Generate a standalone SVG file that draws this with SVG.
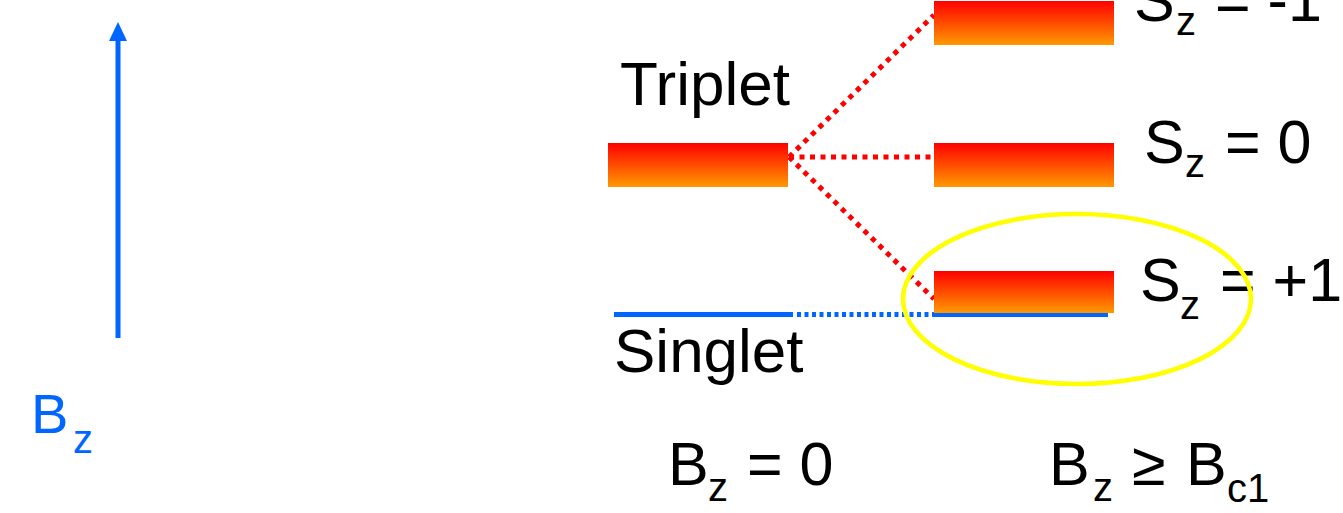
<svg xmlns="http://www.w3.org/2000/svg" width="1343" height="513" viewBox="0 0 1343 513">
<style>
text{font-family:"Liberation Sans",Arial,sans-serif;fill:#000}
.lbl{font-size:62px}
.eq{font-size:61px}
.sub{font-size:40px}
.blue{fill:#0066ff}
.bar{fill:url(#grad)}
.red{stroke:#ff0000;stroke-width:5;stroke-dasharray:5 5.5;fill:none}
.bl{stroke:#0066ff;stroke-width:5;fill:none}
</style>
<defs>
<linearGradient id="grad" x1="0" y1="0" x2="0" y2="1">
<stop offset="0" stop-color="#ff0000"/>
<stop offset="1" stop-color="#ff9900"/>
</linearGradient>
</defs>
<rect width="1343" height="513" fill="#fff"/>
<g id="field-arrow">
<line x1="118" y1="338" x2="118" y2="38" stroke="#0066ff" stroke-width="5"/>
<polygon points="118,22 109,41 127,41" fill="#0066ff"/>
<text class="blue" x="31" y="433" font-size="56">B<tspan class="sub blue" x="73" y="453">z</tspan></text>
</g>
<g id="connectors">
<line class="red" x1="789" y1="157" x2="934" y2="15"/>
<line class="red" x1="789" y1="157" x2="934" y2="157"/>
<line class="red" x1="789" y1="157" x2="934" y2="299"/>
<line class="bl" x1="797" y1="314.5" x2="934" y2="314.5" stroke-dasharray="4 3.5"/>
</g>
<g id="singlet">
<line class="bl" x1="614" y1="314.5" x2="793" y2="314.5"/>
<line class="bl" x1="934" y1="314.5" x2="1108" y2="314.5"/>
<text class="lbl" x="614" y="372">Singlet</text>
</g>
<g id="triplet">
<rect class="bar" x="608" y="143" width="180" height="44"/>
<text class="lbl" x="620" y="105">Triplet</text>
</g>
<g id="sz-minus1">
<rect class="bar" x="934" y="1" width="180" height="44"/>
<text class="eq" x="1134" y="21">S<tspan class="sub" x="1176" y="35">z</tspan><tspan x="1215" y="21">= -1</tspan></text>
</g>
<g id="sz-0">
<rect class="bar" x="934" y="143" width="180" height="44"/>
<text class="eq" x="1144" y="163">S<tspan class="sub" x="1185" y="177">z</tspan><tspan x="1225" y="163">= 0</tspan></text>
</g>
<g id="sz-plus1">
<rect class="bar" x="934" y="271" width="180" height="42"/>
<text class="eq" x="1140" y="301">S<tspan class="sub" x="1180" y="319">z</tspan><tspan x="1220" y="301">= +1</tspan></text>
</g>
<g id="highlight">
<ellipse cx="1077" cy="299" rx="174" ry="85" fill="none" stroke="#ffff00" stroke-width="4.5"/>
</g>
<g id="bz-0">
<text class="eq" x="668" y="485">B<tspan class="sub" x="708" y="501">z</tspan><tspan x="747" y="485">= 0</tspan></text>
</g>
<g id="bz-bc1">
<text class="eq" x="1049" y="485">B<tspan class="sub" x="1093" y="501">z</tspan><tspan x="1132" y="485">≥</tspan><tspan x="1186" y="485">B</tspan><tspan class="sub" x="1227" y="502">c1</tspan></text>
</g>
</svg>
